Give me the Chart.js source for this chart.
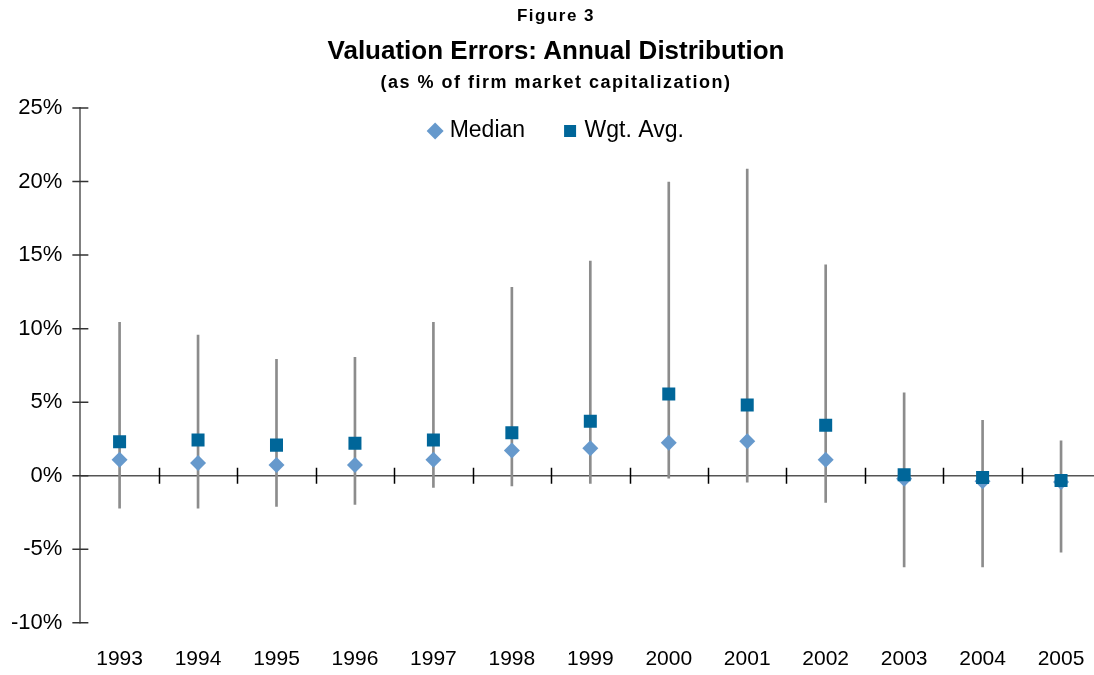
<!DOCTYPE html>
<html><head><meta charset="utf-8">
<script src="https://cdn.jsdelivr.net/npm/chart.js@4.4.1/dist/chart.umd.min.js"></script>
<style>
html,body{margin:0;padding:0;background:#fff;overflow:hidden}
#wrap{position:relative;width:1094px;height:675px;overflow:hidden}
canvas{position:absolute;left:0;top:0}
.t{position:absolute;left:0;width:1112px;text-align:center;font-family:"Liberation Sans",Arial,sans-serif;font-weight:bold;color:#000;white-space:nowrap}
#fig{top:4px;font-size:17px;line-height:24px;letter-spacing:1.5px}
#main{top:34px;font-size:26px;line-height:32px}
#sub{top:70px;font-size:18px;line-height:24px;letter-spacing:1.5px}
</style></head>
<body><div id="wrap">
<canvas id="c" width="1094" height="675"></canvas>
<div class="t" id="fig">Figure 3</div>
<div class="t" id="main">Valuation Errors: Annual Distribution</div>
<div class="t" id="sub">(as % of firm market capitalization)</div>
</div>
<script>
const years = [1993,1994,1995,1996,1997,1998,1999,2000,2001,2002,2003,2004,2005];
const rangeLow  = [-2.2,-2.2,-2.08,-1.95,-0.8,-0.69,-0.53,-0.17,-0.44,-1.81,-6.2,-6.2,-5.2];
const rangeHigh = [10.42,9.56,7.92,8.05,10.42,12.8,14.6,19.97,20.84,14.34,5.64,3.77,2.38];
const median    = [1.09,0.87,0.73,0.73,1.09,1.72,1.86,2.24,2.35,1.09,-0.2,-0.37,-0.42];
const wgtAvg    = [2.31,2.42,2.08,2.2,2.42,2.92,3.7,5.55,4.81,3.43,0.07,-0.12,-0.33];
const yTicks    = [-10,-5,0,5,10,15,20,25];

const FONT = '"Liberation Sans", Arial, sans-serif';

const crossTicks = {
  id: 'crossTicks',
  beforeDatasetsDraw(chart) {
    const {ctx, scales: {x, y}} = chart;
    ctx.save();
    const y0 = y.getPixelForValue(0);
    ctx.strokeStyle = '#000';
    ctx.lineWidth = 1.5;
    ctx.beginPath();
    for (let i = 0; i < years.length - 1; i++) {
      const px = Math.round(x.getPixelForValue((years[i] + years[i + 1]) / 2)) + 0.5;
      ctx.moveTo(px, y0 - 8);
      ctx.lineTo(px, y0 + 8);
    }
    ctx.stroke();
    ctx.strokeStyle = '#333';
    ctx.beginPath();
    const ax = x.left;
    yTicks.forEach(v => {
      const py = y.getPixelForValue(v);
      ctx.moveTo(ax - 8, py);
      ctx.lineTo(ax + 8, py);
    });
    ctx.stroke();
    ctx.restore();
  }
};

const legendPlace = {
  id: 'legendPlace',
  beforeDraw(chart) {
    const lg = chart.legend;
    if (!lg) return;
    const lo = lg.options.labels;
    lg.left = 22;
    lg.right = 1094;
    lg.top = 131 - lo.padding - lo.font.size / 2;
    lg.bottom = lg.top + 100;
  }
};

new Chart(document.getElementById('c'), {
  type: 'scatter',
  data: {
    datasets: [
      {
        type: 'bar',
        label: 'Range',
        data: years.map((x, i) => ({x, y: [rangeLow[i], rangeHigh[i]]})),
        backgroundColor: '#8c8c8c',
        borderWidth: 0,
        barThickness: 2,
        order: 3
      },
      {
        label: 'Median',
        data: years.map((x, i) => ({x, y: median[i]})),
        pointStyle: 'rectRot',
        pointRadius: 8,
        backgroundColor: '#6699CC',
        pointBackgroundColor: '#6699CC',
        borderColor: '#6699CC',
        borderWidth: 0,
        pointBorderWidth: 0,
        order: 2
      },
      {
        label: 'Wgt. Avg.',
        data: years.map((x, i) => ({x, y: wgtAvg[i]})),
        pointStyle: 'rect',
        pointRadius: 9.2,
        backgroundColor: '#006699',
        pointBackgroundColor: '#006699',
        borderColor: '#006699',
        borderWidth: 0,
        pointBorderWidth: 0,
        order: 1
      }
    ]
  },
  options: {
    responsive: false,
    animation: false,
    events: [],
    layout: {autoPadding: false, padding: {left: 8, right: 0, top: 33, bottom: 0}},
    plugins: {
      tooltip: {enabled: false},
      title: {display: false},
      legend: {
        position: 'top',
        align: 'center',
        labels: {
          filter: item => item.text !== 'Range',
          sort: (a, b) => a.datasetIndex - b.datasetIndex,
          usePointStyle: true,
          boxWidth: 6,
          boxHeight: 12,
          padding: 42,
          color: '#000',
          font: {family: FONT, size: 23}
        }
      }
    },
    scales: {
      x: {
        type: 'linear',
        offset: false,
        min: 1992.5,
        max: 2005.42,
        afterBuildTicks: s => { s.ticks = years.map(v => ({value: v})); },
        grid: {display: false, drawTicks: true, tickLength: 21, offset: false},
        border: {display: false},
        ticks: {
          padding: 3,
          color: '#000',
          autoSkip: false,
          maxRotation: 0,
          font: {family: FONT, size: 21},
          callback: v => String(v)
        }
      },
      y: {
        min: -10,
        max: 25,
        afterBuildTicks: s => { s.ticks = yTicks.map(v => ({value: v})); },
        grid: {
          color: c => (c.tick && c.tick.value === 0) ? '#555' : 'transparent',
          lineWidth: 1.5,
          drawTicks: true,
          tickLength: 15,
          tickColor: 'transparent'
        },
        border: {display: true, color: '#808080', width: 2},
        ticks: {
          padding: 3,
          color: '#000',
          font: {family: FONT, size: 22},
          callback: v => v + '%'
        }
      }
    }
  },
  plugins: [crossTicks, legendPlace]
});
</script>
</body></html>
